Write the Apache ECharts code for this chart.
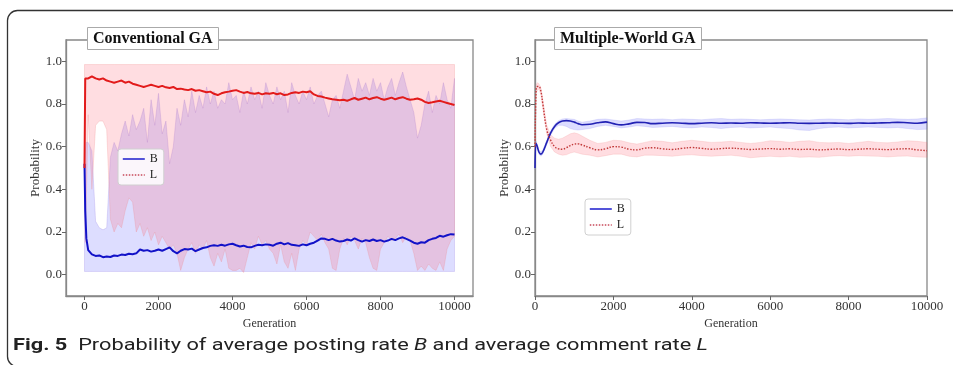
<!DOCTYPE html>
<html>
<head>
<meta charset="utf-8">
<script src="https://cdn.jsdelivr.net/npm/echarts@6/dist/echarts.min.js"></script>
<style>
  html, body { margin: 0; padding: 0; background: #fff; }
  #chart { width: 953px; height: 365px; }
</style>
</head>
<body>
<div id="chart"></div>
<script>
// ---- Conventional GA: generations sampled and per-generation statistics ----
const genConv = [0, 20, 50, 100, 200, 300, 400, 500, 600, 700, 800, 900, 1000,
  1100, 1200, 1300, 1400, 1500, 1600, 1700, 1800, 1900, 2000,
  2100, 2200, 2300, 2400, 2500, 2600, 2700, 2800, 2900, 3000,
  3100, 3200, 3300, 3400, 3500, 3600, 3700, 3800, 3900, 4000,
  4100, 4200, 4300, 4400, 4500, 4600, 4700, 4800, 4900, 5000,
  5100, 5200, 5300, 5400, 5500, 5600, 5700, 5800, 5900, 6000,
  6100, 6200, 6300, 6400, 6500, 6600, 6700, 6800, 6900, 7000,
  7100, 7200, 7300, 7400, 7500, 7600, 7700, 7800, 7900, 8000,
  8100, 8200, 8300, 8400, 8500, 8600, 8700, 8800, 8900, 9000,
  9100, 9200, 9300, 9400, 9500, 9600, 9700, 9800, 9900, 10000];

// mean posting rate B
const bMeanConv = [0.52, 0.30, 0.17, 0.115, 0.095, 0.088, 0.090, 0.082, 0.085, 0.083, 0.090, 0.088, 0.094,
  0.092, 0.098, 0.096, 0.100, 0.118, 0.112, 0.115, 0.108, 0.112, 0.118,
  0.112, 0.120, 0.128, 0.110, 0.100, 0.112, 0.120, 0.118, 0.122, 0.110,
  0.118, 0.125, 0.128, 0.135, 0.138, 0.135, 0.140, 0.136, 0.142, 0.145,
  0.138, 0.132, 0.136, 0.130, 0.128, 0.135, 0.140, 0.138, 0.142, 0.140,
  0.136, 0.145, 0.150, 0.142, 0.148, 0.140, 0.138, 0.135, 0.142, 0.138,
  0.145, 0.150, 0.160, 0.170, 0.168, 0.162, 0.168, 0.160, 0.155, 0.158,
  0.165, 0.160, 0.170, 0.162, 0.155, 0.162, 0.158, 0.165, 0.158, 0.162,
  0.155, 0.160, 0.168, 0.162, 0.170, 0.175, 0.168, 0.160, 0.150, 0.145,
  0.152, 0.150, 0.162, 0.168, 0.172, 0.182, 0.178, 0.185, 0.190, 0.188];

// mean comment rate L
const lMeanConv = [0.50, 0.92, 0.925, 0.92, 0.93, 0.92, 0.915, 0.92, 0.91, 0.905, 0.90, 0.905, 0.91,
  0.90, 0.905, 0.895, 0.89, 0.885, 0.88, 0.885, 0.89, 0.885, 0.88,
  0.885, 0.878, 0.875, 0.88, 0.87, 0.872, 0.868, 0.865, 0.87, 0.862,
  0.865, 0.86, 0.855, 0.858, 0.848, 0.842, 0.85, 0.855, 0.858, 0.862,
  0.865, 0.858, 0.852, 0.856, 0.85, 0.848, 0.852, 0.845, 0.85, 0.848,
  0.852, 0.846, 0.85, 0.842, 0.845, 0.852, 0.855, 0.852, 0.858, 0.855,
  0.86, 0.845, 0.838, 0.835, 0.83, 0.826, 0.822, 0.82, 0.818, 0.82,
  0.815, 0.822, 0.828, 0.82, 0.825, 0.83, 0.822, 0.828, 0.832, 0.825,
  0.82, 0.825, 0.83, 0.822, 0.828, 0.832, 0.825, 0.82, 0.822, 0.826,
  0.82, 0.81, 0.805, 0.808, 0.812, 0.815, 0.81, 0.805, 0.80, 0.795];

// upper edge of the B spread (lower edge stays near 0)
const bHighConv = [0.52, 0.58, 0.62, 0.62, 0.58, 0.25, 0.22, 0.21, 0.22, 0.55, 0.62, 0.58, 0.66,
  0.72, 0.65, 0.75, 0.68, 0.72, 0.78, 0.62, 0.82, 0.70, 0.85,
  0.66, 0.72, 0.52, 0.60, 0.78, 0.70, 0.82, 0.74, 0.86, 0.76,
  0.84, 0.78, 0.88, 0.80, 0.86, 0.78, 0.82, 0.80, 0.90, 0.82,
  0.84, 0.76, 0.86, 0.80, 0.88, 0.82, 0.86, 0.78, 0.90, 0.84,
  0.80, 0.88, 0.82, 0.86, 0.76, 0.90, 0.84, 0.80, 0.86, 0.82,
  0.88, 0.80, 0.84, 0.86, 0.80, 0.74, 0.82, 0.84, 0.78, 0.86,
  0.94, 0.88, 0.82, 0.92, 0.86, 0.90, 0.84, 0.92, 0.86, 0.90,
  0.82, 0.88, 0.92, 0.84, 0.90, 0.95, 0.88, 0.82, 0.76, 0.64,
  0.70, 0.80, 0.86, 0.76, 0.84, 0.80, 0.90, 0.82, 0.78, 0.92];
const bLowConv = 0.015;

// lower edge of the L spread (upper edge stays near 1)
const lLowConv = [0.50, 0.15, 0.35, 0.75, 0.40, 0.70, 0.72, 0.72, 0.68, 0.26, 0.20, 0.24, 0.22,
  0.30, 0.36, 0.34, 0.20, 0.24, 0.18, 0.22, 0.16, 0.20, 0.14,
  0.18, 0.15, 0.12, 0.14, 0.10, 0.02, 0.08, 0.12, 0.15, 0.10,
  0.14, 0.12, 0.16, 0.08, 0.04, 0.10, 0.06, 0.12, 0.03, 0.02,
  0.02, 0.03, 0.01, 0.08, 0.15, 0.12, 0.18, 0.14, 0.16, 0.12,
  0.10, 0.05, 0.14, 0.06, 0.03, 0.10, 0.02, 0.12, 0.16, 0.14,
  0.20, 0.18, 0.16, 0.19, 0.15, 0.12, 0.03, 0.02, 0.12, 0.17,
  0.14, 0.18, 0.16, 0.12, 0.17, 0.15, 0.08, 0.03, 0.02, 0.12,
  0.15, 0.18, 0.16, 0.17, 0.19, 0.15, 0.18, 0.16, 0.10, 0.02,
  0.04, 0.02, 0.05, 0.03, 0.02, 0.06, 0.02, 0.12, 0.16, 0.18];
const lHighConv = 0.985;

// ---- Multiple-World GA ----
const genMW = [0, 30, 60, 100, 150, 200, 300, 400, 500, 600, 700, 800, 900, 1000, 1100, 1200,
  1400, 1600, 1800, 2000, 2200, 2400, 2600, 2800, 3000, 3250, 3500, 3750, 4000,
  4250, 4500, 4750, 5000, 5250, 5500, 5750, 6000, 6250, 6500, 6750, 7000,
  7250, 7500, 7750, 8000, 8250, 8500, 8750, 9000, 9250, 9500, 9750, 10000];

const bMeanMW = [0.50, 0.615, 0.60, 0.575, 0.565, 0.575, 0.62, 0.665, 0.695, 0.712, 0.72, 0.722, 0.72, 0.715, 0.708, 0.703,
  0.705, 0.712, 0.716, 0.708, 0.702, 0.707, 0.714, 0.713, 0.708, 0.71, 0.712, 0.71, 0.708,
  0.71, 0.712, 0.71, 0.711, 0.71, 0.712, 0.711, 0.71, 0.711, 0.712, 0.71, 0.709,
  0.71, 0.711, 0.71, 0.709, 0.711, 0.71, 0.711, 0.712, 0.714, 0.712, 0.71, 0.715];
const bHighMW = [0.50, 0.625, 0.61, 0.585, 0.575, 0.585, 0.63, 0.675, 0.705, 0.722, 0.73, 0.732, 0.73, 0.728, 0.72, 0.715,
  0.72, 0.728, 0.73, 0.725, 0.72, 0.725, 0.732, 0.73, 0.728, 0.73, 0.726, 0.73, 0.728,
  0.726, 0.73, 0.732, 0.728, 0.73, 0.728, 0.726, 0.728, 0.73, 0.728, 0.726, 0.725,
  0.728, 0.73, 0.728, 0.726, 0.73, 0.728, 0.73, 0.732, 0.73, 0.728, 0.73, 0.735];
const bLowMW = [0.49, 0.605, 0.59, 0.565, 0.555, 0.565, 0.61, 0.655, 0.685, 0.70, 0.70, 0.695, 0.685, 0.68, 0.678, 0.68,
  0.685, 0.695, 0.70, 0.695, 0.688, 0.692, 0.698, 0.695, 0.69, 0.692, 0.695, 0.69, 0.688,
  0.692, 0.69, 0.685, 0.69, 0.692, 0.688, 0.69, 0.692, 0.688, 0.685, 0.678, 0.676,
  0.685, 0.69, 0.692, 0.688, 0.69, 0.692, 0.69, 0.688, 0.69, 0.685, 0.68, 0.682];

const lMeanMW = [0.60, 0.87, 0.882, 0.882, 0.86, 0.80, 0.68, 0.63, 0.60, 0.59, 0.588, 0.595, 0.605, 0.612, 0.613, 0.608,
  0.595, 0.585, 0.59, 0.60, 0.598, 0.588, 0.585, 0.593, 0.595, 0.59, 0.587, 0.592, 0.596,
  0.592, 0.588, 0.591, 0.593, 0.59, 0.587, 0.589, 0.591, 0.588, 0.59, 0.587, 0.588,
  0.585, 0.587, 0.589, 0.586, 0.588, 0.59, 0.588, 0.586, 0.589, 0.59, 0.585, 0.581];
const lHighMW = [0.62, 0.89, 0.90, 0.895, 0.875, 0.82, 0.70, 0.655, 0.64, 0.635, 0.64, 0.65, 0.66, 0.665, 0.66, 0.65,
  0.63, 0.615, 0.62, 0.63, 0.628, 0.618, 0.612, 0.62, 0.628, 0.625, 0.618, 0.625, 0.63,
  0.625, 0.62, 0.622, 0.625, 0.62, 0.615, 0.62, 0.628, 0.625, 0.62, 0.625, 0.628,
  0.62, 0.618, 0.62, 0.615, 0.62, 0.625, 0.62, 0.618, 0.622, 0.628, 0.625, 0.62];
const lLowMW = [0.58, 0.85, 0.865, 0.87, 0.845, 0.78, 0.66, 0.60, 0.575, 0.565, 0.56, 0.562, 0.57, 0.575, 0.57, 0.565,
  0.56, 0.552, 0.558, 0.565, 0.565, 0.555, 0.552, 0.56, 0.56, 0.558, 0.555, 0.56, 0.562,
  0.558, 0.555, 0.558, 0.56, 0.555, 0.548, 0.552, 0.555, 0.552, 0.555, 0.55, 0.552,
  0.55, 0.555, 0.558, 0.555, 0.558, 0.556, 0.555, 0.552, 0.555, 0.556, 0.552, 0.55];

// ---- axis ticks and text ----
const genTicks = [0, 2000, 4000, 6000, 8000, 10000];
const probTicks = [0, 0.2, 0.4, 0.6, 0.8, 1.0];
const panelTitles = ['Conventional GA', 'Multiple-World GA'];
const caption = '{b|Fig. 5}  Probability of average posting rate {i|B} and average comment rate {i|L}';

// ---- helpers that turn the arrays into series data ----
const at = (v, i) => Array.isArray(v) ? v[i] : v;
const pairs = (xs, ys) => xs.map((x, i) => [x, at(ys, i)]);

const SERIF = '"Liberation Serif", "Times New Roman", serif';
const SANS = 'Roboto, "Noto Sans", sans-serif';
const BLUE_BAND = 'rgba(100,100,255,0.22)';
const RED_BAND = 'rgba(255,100,120,0.22)';

// shaded spread between a lower and an upper edge, drawn as one polygon
function band(gi, xs, hi, lo, fill, edge) {
  return {
    type: 'custom', xAxisIndex: gi, yAxisIndex: gi, silent: true, z: 1,
    data: [[xs[0], at(lo, 0)]],
    renderItem: (params, api) => {
      const upper = xs.map((x, i) => api.coord([x, at(hi, i)]));
      const lower = xs.map((x, i) => api.coord([x, at(lo, i)])).reverse();
      return {
        type: 'polygon',
        shape: { points: upper.concat(lower) },
        style: { fill: fill, stroke: edge, lineWidth: 0.7 }
      };
    }
  };
}

function xAxisFor(gi, min, max) {
  return {
    type: 'value', gridIndex: gi, min: min, max: max,
    name: 'Generation', nameLocation: 'middle', nameGap: 16,
    nameTextStyle: { fontFamily: SERIF, fontSize: 12, color: '#333' },
    axisLine: { show: true, onZero: false, lineStyle: { color: '#888', width: 1.3 } },
    axisTick: { show: true, length: 4, customValues: genTicks, lineStyle: { color: '#666' } },
    axisLabel: { customValues: genTicks, fontFamily: SERIF, fontSize: 13, color: '#333', margin: 4,
      formatter: v => String(v) },
    splitLine: { show: false }
  };
}
function yAxisFor(gi) {
  return {
    type: 'value', gridIndex: gi, min: -0.1, max: 1.1,
    name: 'Probability', nameLocation: 'middle', nameGap: 22, nameRotate: 90,
    nameTextStyle: { fontFamily: SERIF, fontSize: 13, color: '#333' },
    axisLine: { show: true, onZero: false, lineStyle: { color: '#888', width: 1.3 } },
    axisTick: { show: true, length: 4, customValues: probTicks, lineStyle: { color: '#666' } },
    axisLabel: { customValues: probTicks, fontFamily: SERIF, fontSize: 13, color: '#333', margin: 4,
      formatter: v => v.toFixed(1) },
    splitLine: { show: false }
  };
}

const legendBase = {
  orient: 'vertical',
  data: [
    { name: 'B', lineStyle: { color: '#2a2ad0', width: 1.6, type: 'solid' } },
    { name: 'L', lineStyle: { color: '#c84a5a', width: 1.4, type: [1.5, 1.5] } }
  ],
  itemWidth: 22, itemHeight: 10, itemGap: 4,
  itemStyle: { opacity: 0 },
  padding: [4, 6, 4, 4], backgroundColor: 'rgba(255,255,255,0.85)',
  borderColor: '#d0d0d0', borderWidth: 1, borderRadius: 3,
  textStyle: { fontFamily: SERIF, fontSize: 12, color: '#222' },
  selectedMode: false
};

const titleBase = {
  padding: [4, 6, 3, 6], backgroundColor: '#fff', borderColor: '#aaa', borderWidth: 1,
  textStyle: { fontFamily: SERIF, fontWeight: 'bold', fontSize: 16, color: '#111' }
};

const option = {
  animation: false,
  backgroundColor: '#fff',
  title: [
    Object.assign({ text: panelTitles[0], left: 87, top: 27 }, titleBase),
    Object.assign({ text: panelTitles[1], left: 554, top: 27 }, titleBase)
  ],
  legend: [
    Object.assign({ left: 118, top: 149 }, legendBase),
    Object.assign({ left: 585, top: 199 }, legendBase)
  ],
  grid: [
    { left: 66, top: 40, width: 407, height: 256, show: true, borderColor: '#888', borderWidth: 1.3, backgroundColor: 'transparent' },
    { left: 535, top: 40, width: 392, height: 256, show: true, borderColor: '#888', borderWidth: 1.3, backgroundColor: 'transparent' }
  ],
  xAxis: [xAxisFor(0, -500, 10500), xAxisFor(1, 0, 10000)],
  yAxis: [yAxisFor(0), yAxisFor(1)],
  series: [
    band(0, genConv, bHighConv, bLowConv, BLUE_BAND, 'rgba(130,100,220,0.3)'),
    band(0, genConv, lHighConv, lLowConv, RED_BAND, 'rgba(240,130,130,0.35)'),
    { name: 'B', type: 'line', xAxisIndex: 0, yAxisIndex: 0, data: pairs(genConv, bMeanConv),
      symbol: 'none', lineStyle: { color: '#1212c8', width: 2 }, itemStyle: { color: '#1212c8' }, z: 3 },
    { name: 'L', type: 'line', xAxisIndex: 0, yAxisIndex: 0, data: pairs(genConv, lMeanConv),
      symbol: 'none', lineStyle: { color: '#e21b1b', width: 2 }, itemStyle: { color: '#e21b1b' }, z: 3 },

    band(1, genMW, bHighMW, bLowMW, BLUE_BAND, 'rgba(120,120,240,0.25)'),
    band(1, genMW, lHighMW, lLowMW, RED_BAND, 'rgba(240,120,120,0.25)'),
    { name: 'B', type: 'line', xAxisIndex: 1, yAxisIndex: 1, data: pairs(genMW, bMeanMW), smooth: 0.4,
      symbol: 'none', lineStyle: { color: '#2222b4', width: 1.6 }, itemStyle: { color: '#2222b4' }, z: 3 },
    { name: 'L', type: 'line', xAxisIndex: 1, yAxisIndex: 1, data: pairs(genMW, lMeanMW), smooth: 0.4,
      symbol: 'none', lineStyle: { color: '#c23a3a', width: 1.4, type: [1.5, 1.5] }, itemStyle: { color: '#c23a3a' }, z: 3 }
  ],
  graphic: [
    { type: 'rect', z: -1, silent: true,
      shape: { x: 7.5, y: 10.5, width: 1000, height: 356, r: 10 },
      style: { fill: 'none', stroke: '#333', lineWidth: 1.3 } },
    { type: 'text', x: 13, y: 346, scaleX: 1.28, silent: true,
      style: {
        text: caption, fontFamily: SANS, fontSize: 17, fill: '#222', verticalAlign: 'middle',
        rich: {
          b: { fontFamily: SANS, fontWeight: 'bold', fontSize: 17, fill: '#222' },
          i: { fontFamily: SANS, fontStyle: 'italic', fontSize: 17, fill: '#222' }
        }
      } }
  ]
};

const chart = echarts.init(document.getElementById('chart'), null, { renderer: 'canvas' });
chart.setOption(option);
</script>
</body>
</html>
